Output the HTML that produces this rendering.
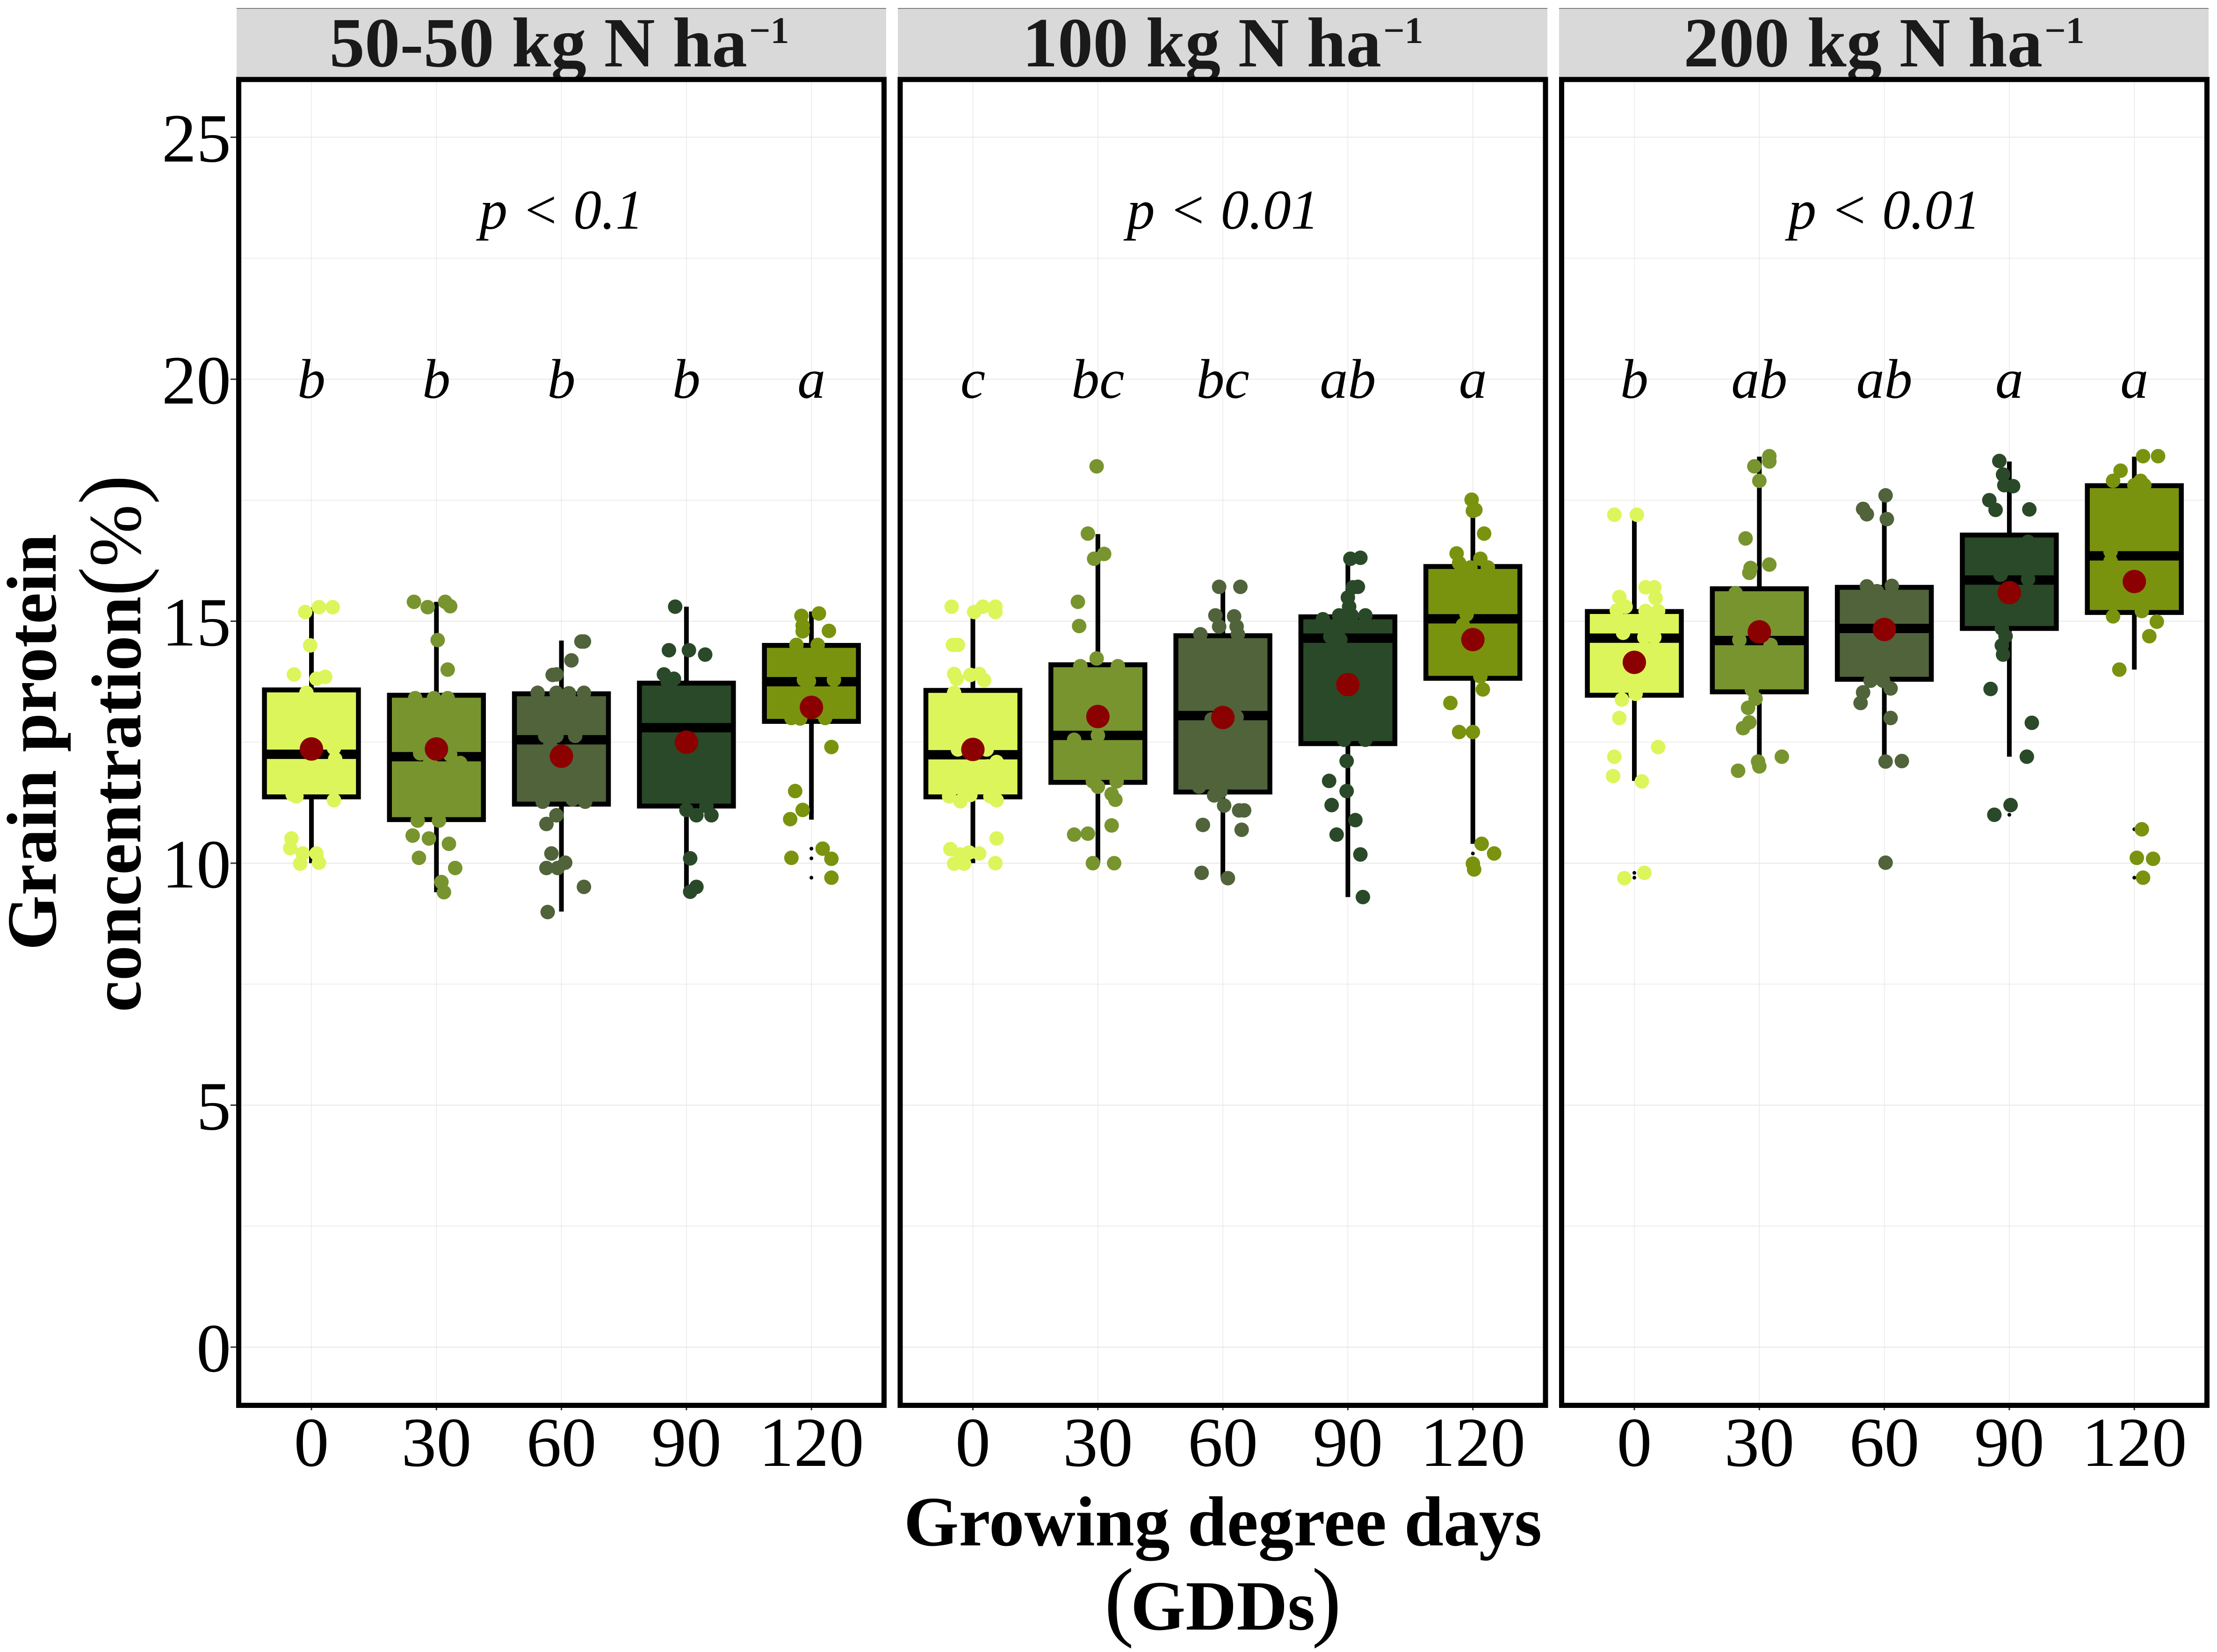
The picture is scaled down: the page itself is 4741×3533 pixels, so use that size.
<!DOCTYPE html>
<html lang="en">
<head>
<meta charset="utf-8">
<title>Grain protein concentration by growing degree days</title>
<style>
html,body{margin:0;padding:0;background:#fff}
svg{display:block}
text{font-family:"Liberation Serif","Times New Roman",serif}
</style>
</head>
<body>
<svg id="chart" xmlns="http://www.w3.org/2000/svg" width="4741" height="3533" viewBox="0 0 4741 3533">
  <rect x="0" y="0" width="4741" height="3533" fill="#ffffff"/>
  <g id="strips">
    <rect x="506" y="17" width="1389" height="148" fill="#d9d9d9"/>
    <rect x="1920" y="17" width="1389" height="148" fill="#d9d9d9"/>
    <rect x="3334" y="17" width="1389" height="148" fill="#d9d9d9"/>
    <rect x="506" y="17" width="1389" height="2" fill="#808080"/>
    <rect x="1920" y="17" width="1389" height="2" fill="#808080"/>
    <rect x="3334" y="17" width="1389" height="2" fill="#808080"/>
    <text x="1196" y="142" font-size="151" font-weight="bold" fill="#1a1a1a" text-anchor="middle">50-50 kg N ha<tspan dx="4" dy="-50" font-size="80">−1</tspan></text>
    <text x="2615" y="142" font-size="151" font-weight="bold" fill="#1a1a1a" text-anchor="middle">100 kg N ha<tspan dx="4" dy="-50" font-size="80">−1</tspan></text>
    <text x="4029" y="142" font-size="151" font-weight="bold" fill="#1a1a1a" text-anchor="middle">200 kg N ha<tspan dx="4" dy="-50" font-size="80">−1</tspan></text>
  </g>
  <g id="panels"></g>
  <g id="yaxis"></g>
  <text transform="translate(119,1587) rotate(-90)" font-size="151" font-weight="bold" text-anchor="middle">Grain protein</text>
  <text transform="translate(300,1590) rotate(-90)" font-size="151" font-weight="bold" text-anchor="middle">concentration<tspan font-size="190" font-weight="normal">(</tspan><tspan font-size="160" font-weight="normal">%</tspan><tspan font-size="190" font-weight="normal">)</tspan></text>
  <text x="2615" y="3305" font-size="151.3" font-weight="bold" text-anchor="middle">Growing degree days</text>
  <text x="2615" y="3485" font-size="151" font-weight="bold" text-anchor="middle"><tspan font-size="190" font-weight="normal">(</tspan><tspan dx="-7">GDDs</tspan><tspan dx="-7" font-size="190" font-weight="normal">)</tspan></text>
</svg>
<script>
// ---------- categories and labels ----------
const categories = ['0', '30', '60', '90', '120'];
const yTicks = [0, 5, 10, 15, 20, 25];
const yMinor = [2.5, 7.5, 12.5, 17.5, 22.5];
const panelNames = ['50-50', '100', '200'];
const pLabels = ['p < 0.1', 'p < 0.01', 'p < 0.01'];
const lettersA = ['b', 'b', 'b', 'b', 'a'];
const lettersB = ['c', 'bc', 'bc', 'ab', 'a'];
const lettersC = ['b', 'ab', 'ab', 'a', 'a'];
const groupColors = ['#dcf55a', '#78942f', '#50633a', '#2a4928', '#7a930e'];

// ---------- box statistics, % protein ----------
const q1A = [11.37, 10.90, 11.22, 11.18, 12.93];
const medA = [12.25, 12.20, 12.55, 12.80, 13.75];
const q3A = [13.58, 13.47, 13.50, 13.72, 14.50];
const loA = [10.00, 9.40, 9.00, 9.40, 10.90];
const hiA = [15.28, 15.40, 14.60, 15.30, 15.20];
const meanA = [12.36, 12.36, 12.21, 12.50, 13.22];
const outA = [[], [], [], [], [10.3, 10.1, 9.7]];

const q1B = [11.37, 11.67, 11.47, 12.47, 13.82];
const medB = [12.24, 12.64, 13.05, 14.65, 15.05];
const q3B = [13.57, 14.10, 14.70, 15.09, 16.13];
const loB = [10.00, 10.00, 9.70, 9.30, 10.40];
const hiB = [15.20, 16.80, 15.70, 16.30, 17.51];
const meanB = [12.35, 13.03, 13.01, 13.69, 14.62];
const outB = [[], [], [], [], [10.2]];

const q1C = [13.47, 13.54, 13.80, 14.85, 15.18];
const medC = [14.65, 14.60, 14.85, 15.85, 16.35];
const q3C = [15.20, 15.67, 15.70, 16.78, 17.80];
const loC = [11.70, 12.00, 12.09, 12.20, 14.00];
const hiC = [17.10, 18.40, 17.60, 18.30, 18.40];
const meanC = [14.15, 14.78, 14.83, 15.59, 15.82];
const outC = [[9.8, 9.7], [], [], [11.0], [10.7, 9.7]];

// ---------- jittered observations: [jitter in category units, % protein] ----------
const pointsA0 = [[-.05,15.19],[.06,15.29],[.17,15.29],[-.01,14.5],[-.14,13.9],[.04,13.81],[.11,13.85],[-.04,13.52],[.18,12.38],[.19,12.15],[-.12,11.38],[-.15,11.42],[.18,11.3],[-.16,10.51],[-.17,10.31],[-.07,10.2],[.04,10.2],[-.09,9.99],[.06,10.01]];
const pointsA1 = [[-.18,15.4],[-.07,15.29],[.07,15.4],[.11,15.31],[.01,14.61],[.09,14.0],[-.17,13.41],[-.02,13.41],[.09,13.41],[-.13,12.27],[.11,12.24],[-.05,12.13],[.19,12.07],[-.15,10.88],[.02,10.88],[-.19,10.57],[-.06,10.51],[.10,10.4],[-.14,10.11],[.15,9.9],[.04,9.61],[.06,9.4]];
const pointsA2 = [[.16,14.58],[.18,14.58],[.08,14.19],[-.07,13.89],[-.04,13.9],[-.19,13.52],[-.04,13.52],[.06,13.51],[.18,13.52],[-.13,12.63],[-.04,12.63],[.11,12.63],[-.09,12.43],[-.15,11.27],[.09,11.32],[.19,11.27],[-.04,10.99],[-.12,10.81],[-.08,10.2],[.03,10.01],[-.03,9.9],[-.12,9.9],[.18,9.51],[-.11,8.99]];
const pointsA3 = [[-.09,15.3],[-.14,14.4],[.02,14.4],[.15,14.31],[-.18,13.9],[-.10,13.81],[-.15,13.75],[0,11.1],[.08,10.99],[.2,10.99],[.16,11.18],[.03,10.1],[.08,9.51],[.03,9.41]];
const pointsA4 = [[.06,15.16],[-.08,15.11],[-.07,14.91],[-.07,14.79],[.14,14.8],[-.12,14.51],[.05,14.51],[-.06,13.79],[.18,13.79],[-.02,13.76],[-.16,13.0],[-.09,12.99],[.11,13.0],[.16,12.4],[-.13,11.49],[-.07,11.1],[-.17,10.91],[.09,10.3],[-.16,10.11],[.16,10.09],[.16,9.7]];

const pointsB0 = [[-.17,15.3],[.01,15.19],[.08,15.3],[.18,15.3],[.18,15.19],[-.16,14.51],[-.12,14.51],[-.15,13.91],[-.13,13.81],[-.02,13.89],[.05,13.91],[.09,13.78],[-.15,13.52],[-.12,12.35],[.11,12.35],[.19,12.09],[.12,12.0],[-.19,11.38],[-.10,11.28],[-.02,11.41],[.14,11.38],[.19,11.3],[.19,10.51],[-.18,10.29],[-.03,10.22],[.05,10.2],[-.10,10.18],[-.15,9.99],[-.07,9.99],[.18,10.0]];
const pointsB1 = [[-.01,18.2],[-.08,16.81],[.05,16.39],[-.03,16.29],[-.16,15.4],[-.15,14.9],[-.01,14.23],[-.14,14.07],[.16,14.07],[0,12.64],[-.19,12.55],[-.04,11.69],[0,11.58],[.15,11.69],[.11,11.43],[.14,11.31],[.11,10.78],[-.19,10.59],[-.08,10.61],[-.04,10.0],[.13,10.0]];
const pointsB2 = [[-.03,15.71],[.14,15.71],[-.06,15.12],[.09,15.1],[-.03,14.89],[.11,14.89],[-.18,14.73],[.12,14.73],[-.09,12.97],[.11,13.02],[-.19,11.58],[-.07,11.4],[-.02,11.48],[.01,11.19],[.13,11.09],[.17,11.09],[-.16,10.79],[.15,10.69],[-.17,9.8],[.04,9.69]];
const pointsB3 = [[.02,16.29],[.10,16.31],[.08,15.71],[.04,15.7],[0,15.49],[.01,15.3],[-.07,15.12],[.03,15.12],[-.2,15.04],[.14,15.12],[-.14,14.68],[-.06,14.62],[-.03,12.55],[.14,12.55],[-.01,12.11],[-.15,11.7],[-.01,11.49],[-.13,11.2],[.06,10.89],[-.09,10.59],[.10,10.18],[.12,9.3]];
const pointsB4 = [[-.01,17.51],[.02,17.3],[0,17.28],[.09,16.81],[-.13,16.4],[.06,16.29],[-.11,16.2],[-.02,16.11],[.12,16.11],[-.05,15.14],[-.08,14.92],[.06,13.86],[.08,13.59],[-.18,13.31],[-.11,12.71],[0,12.71],[.07,10.4],[.17,10.2],[0,9.99],[.01,9.87]];

const pointsC0 = [[-.16,17.2],[.02,17.2],[.09,15.7],[.16,15.7],[.17,15.48],[-.12,15.5],[-.07,15.3],[-.14,15.22],[.09,15.21],[.19,15.21],[-.09,14.76],[.08,14.67],[.16,14.67],[.01,13.5],[-.10,13.38],[-.12,13.0],[.19,12.4],[-.16,12.2],[-.17,11.8],[.06,11.69],[.08,9.8],[-.08,9.69]];
const pointsC1 = [[.08,18.41],[.08,18.3],[-.04,18.2],[0,17.9],[-.11,16.71],[.08,16.17],[-.07,16.1],[-.08,16.0],[-.19,15.58],[-.16,14.61],[.09,14.51],[-.06,13.59],[-.03,13.4],[-.09,13.21],[-.08,12.91],[-.13,12.79],[.18,12.2],[-.01,12.1],[0,12.0],[-.17,11.91]];
const pointsC2 = [[.01,17.6],[-.17,17.32],[-.14,17.21],[.02,17.11],[-.14,15.72],[-.06,15.62],[.06,15.73],[-.11,13.77],[-.01,13.77],[.05,13.61],[-.17,13.53],[-.19,13.31],[.05,13.0],[.01,12.1],[.14,12.11],[.01,10.01]];
const pointsC3 = [[-.08,18.31],[-.05,18.03],[.03,17.79],[-.04,17.81],[-.16,17.5],[-.11,17.3],[.16,17.31],[.15,16.64],[-.07,15.96],[.15,15.87],[-.06,14.85],[-.03,14.69],[-.06,14.5],[-.05,14.31],[-.15,13.6],[.18,12.9],[.14,12.2],[.01,11.2],[-.12,11.0]];
const pointsC4 = [[.07,18.41],[.19,18.41],[-.11,18.11],[-.17,17.9],[.05,17.9],[0,17.81],[.08,17.81],[-.19,16.44],[-.19,16.24],[-.17,15.1],[.06,15.21],[.18,14.99],[.12,14.69],[-.12,14.0],[.06,10.7],[.02,10.11],[.15,10.09],[.07,9.7]];

// ---------- panel assembly ----------
const panelData = [
  {q1:q1A, med:medA, q3:q3A, lo:loA, hi:hiA, mean:meanA, out:outA, letters:lettersA, points:[pointsA0,pointsA1,pointsA2,pointsA3,pointsA4]},
  {q1:q1B, med:medB, q3:q3B, lo:loB, hi:hiB, mean:meanB, out:outB, letters:lettersB, points:[pointsB0,pointsB1,pointsB2,pointsB3,pointsB4]},
  {q1:q1C, med:medC, q3:q3C, lo:loC, hi:hiC, mean:meanC, out:outC, letters:lettersC, points:[pointsC0,pointsC1,pointsC2,pointsC3,pointsC4]}
];

// ---------- axis functions ----------
const PANEL_STEP = 1414.5;
const PANEL_W = 1380;
const PANEL_TOP = 170;
const PANEL_BOTTOM = 3005.5;
function panelLeft(p){ return 510.5 + PANEL_STEP * p; }
function xScale(p, c){ return panelLeft(p) + 155.5 + 267.3 * c; }
function yScale(v){ return 2881 - 103.5 * v; }

const NS = 'http://www.w3.org/2000/svg';
function make(parent, tag, attrs, text){
  const el = document.createElementNS(NS, tag);
  for (const k in attrs) el.setAttribute(k, attrs[k]);
  if (text !== undefined) el.textContent = text;
  parent.appendChild(el);
  return el;
}

const panelsRoot = document.getElementById('panels');
const yAxisRoot = document.getElementById('yaxis');

panelData.forEach(function(d, p){
  const left = panelLeft(p);
  const right = left + PANEL_W;
  const pg = make(panelsRoot, 'g', {});
  
  

  const bg = make(pg, 'rect', {x:left, y:PANEL_TOP, width:PANEL_W, height:PANEL_BOTTOM-PANEL_TOP, fill:'#ffffff'});
  
  

  yMinor.forEach(function(v){
    const l = make(pg, 'line', {x1:left, x2:right, y1:yScale(v), y2:yScale(v), stroke:'#eeeeee', 'stroke-width':2});
    
    
  });
  yTicks.forEach(function(v){
    const l = make(pg, 'line', {x1:left, x2:right, y1:yScale(v), y2:yScale(v), stroke:'#e8e8e8', 'stroke-width':2});
    
    
  });
  categories.forEach(function(c, i){
    const l = make(pg, 'line', {x1:xScale(p,i), x2:xScale(p,i), y1:PANEL_TOP, y2:PANEL_BOTTOM, stroke:'#e8e8e8', 'stroke-width':1.5});
    
    
  });

  categories.forEach(function(c, i){
    const cx = xScale(p, i);
    const g = make(pg, 'g', {});
    
    

    const w = make(g, 'line', {x1:cx, x2:cx, y1:yScale(d.hi[i]), y2:yScale(d.lo[i]), stroke:'#000000', 'stroke-width':10});
    
    

    const b = make(g, 'rect', {x:cx-100.5, y:yScale(d.q3[i]), width:201, height:yScale(d.q1[i])-yScale(d.q3[i]), fill:groupColors[i], stroke:'#000000', 'stroke-width':10.5});
    
    

    const m = make(g, 'line', {x1:cx-100.5, x2:cx+100.5, y1:yScale(d.med[i]), y2:yScale(d.med[i]), stroke:'#000000', 'stroke-width':20});
    
    

    d.out[i].forEach(function(v){
      const o = make(g, 'circle', {cx:cx, cy:yScale(v), r:4, fill:'#000000'});
      
      
    });

    d.points[i].forEach(function(pt){
      const o = make(g, 'circle', {cx:cx + 267.3*pt[0], cy:yScale(pt[1]), r:15.5, fill:groupColors[i]});
      
      
    });

    const mean = make(g, 'circle', {cx:cx, cy:yScale(d.mean[i]), r:25, fill:'#8b0000'});
    
    

    const letter = make(g, 'text', {x:cx, y:851, 'font-size':120, 'font-style':'italic', 'text-anchor':'middle', fill:'#000000'}, d.letters[i]);
    
    

    const tick = make(g, 'line', {x1:cx, x2:cx, y1:PANEL_BOTTOM, y2:3016, stroke:'#333333', 'stroke-width':3});
    
    

    const lab = make(g, 'text', {x:cx, y:3135, 'font-size':150, 'text-anchor':'middle', fill:'#000000'}, c);
    
    
  });

  const pText = make(pg, 'text', {x:xScale(p,2), y:489, 'font-size':120, 'font-style':'italic', 'text-anchor':'middle', fill:'#000000'}, pLabels[p]);
  
  

  const frame = make(pg, 'rect', {x:left, y:PANEL_TOP, width:PANEL_W, height:PANEL_BOTTOM-PANEL_TOP, fill:'none', stroke:'#000000', 'stroke-width':11});
  
  
});

yTicks.forEach(function(v){
  const t = make(yAxisRoot, 'line', {x1:493, x2:505, y1:yScale(v), y2:yScale(v), stroke:'#333333', 'stroke-width':3});
  
  
  const l = make(yAxisRoot, 'text', {x:494, y:yScale(v)+52, 'font-size':148, 'text-anchor':'end', fill:'#000000'}, String(v));
  
  
});
</script>
</body>
</html>
